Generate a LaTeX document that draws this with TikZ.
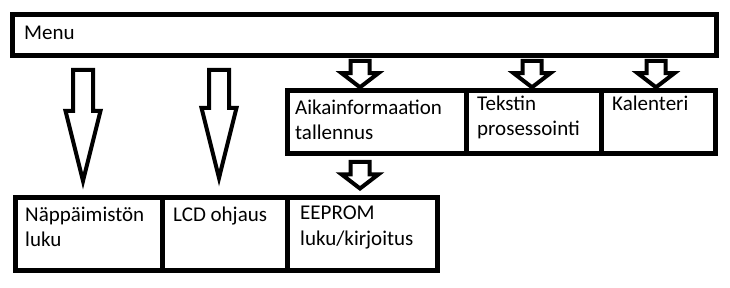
\documentclass[tikz,border=0pt]{standalone}
\usepackage{fontspec}
\setmainfont{Carlito}
\usetikzlibrary{shapes.arrows}

\begin{document}
\begin{tikzpicture}[x=1pt,y=-1pt]

% Define block styles
\tikzset{
  box/.style={rectangle, draw=black, line width=5pt, anchor=north west, inner sep=0pt, outer sep=0pt},
  txt/.style={anchor=base west, inner sep=0pt, align=left, font=\fontsize{21}{25}\selectfont},
  bigarrow/.style={single arrow, draw=black, line width=4pt, shape border rotate=270, anchor=tail,
    inner sep=8pt, outer sep=0pt, single arrow head extend=7.5pt, single arrow tip angle=28},
  smallarrow/.style={single arrow, draw=black, line width=4pt, shape border rotate=270, anchor=tail,
    inner sep=7.5pt, outer sep=0pt, single arrow head extend=9pt, single arrow tip angle=105}
}

\useasboundingbox (0,0) rectangle (730,288);

% Top level
\node[box, minimum width=704pt, minimum height=41pt] (menu) at (12,15) {};
\node[txt] (menuText) at (24,40) {Menu};

% Second layer (base anchor sits on the last line)
\node[box, minimum width=179pt, minimum height=63pt] (aika) at (287,91) {};
\node[box, minimum width=135pt, minimum height=63pt] (teksti) at (466,91) {};
\node[box, minimum width=114pt, minimum height=63pt] (kalenteri) at (601,91) {};
\node[txt] (aikaText) at (295,140) {Aikainformaation\\tallennus};
\node[txt] (tekstiText) at (477,136) {Tekstin\\prosessointi};
\node[txt] (kalenteriText) at (612,111) {Kalenteri};

% Bottom layer (drivers)
\node[box, minimum width=147pt, minimum height=72pt] (nappain) at (15,198) {};
\node[box, minimum width=125pt, minimum height=72pt] (lcd) at (162,198) {};
\node[box, minimum width=150pt, minimum height=72pt] (eeprom) at (287,198) {};
\node[txt] (nappainText) at (25,247) {Näppäimistön\\luku};
\node[txt] (lcdText) at (173,222) {LCD ohjaus};
\node[txt] (eepromText) at (300,245) {EEPROM\\luku/kirjoitus};

% Block arrows
\node[bigarrow, minimum height=111pt] (menuToNappain) at (83,70) {};
\node[bigarrow, minimum height=108pt] (menuToLcd) at (219,70) {};
\node[smallarrow, minimum height=22.5pt] (menuToAika) at (360,61) {};
\node[smallarrow, minimum height=22.5pt] (menuToTeksti) at (532,61) {};
\node[smallarrow, minimum height=22.5pt] (menuToKalenteri) at (656,61) {};
\node[smallarrow, minimum height=26.5pt] (aikaToEeprom) at (360,162) {};

\end{tikzpicture}
\end{document}
